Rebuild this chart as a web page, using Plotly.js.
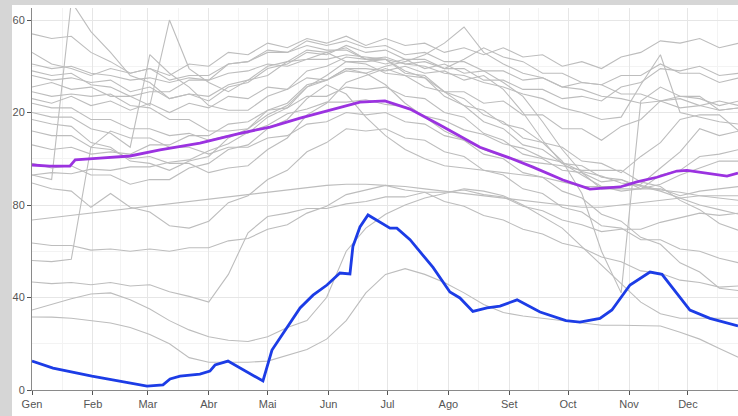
<!DOCTYPE html>
<html>
<head>
<meta charset="utf-8">
<script src="https://cdn.plot.ly/plotly-3.0.1.min.js"></script>
<style>html,body{margin:0;padding:0;background:#fff;}#chart{width:738px;height:416px;}</style>
</head>
<body>
<div id="chart"></div>
<script>
// Month ticks (day of year) and Catalan labels
const monthDays = [0,31,59,90,120,151,181,212,243,273,304,334];
const monthLabels = ['Gen','Feb','Mar','Abr','Mai','Jun','Jul','Ago','Set','Oct','Nov','Dec'];
const midMonths = [15.5,45,74.5,105,135.5,166,196.5,227.5,258,288.5,319,349];
const yTickVals = [0,40,80,120,160];
const yTickText = ['0','40','80','20','60'];
const yMinor = [20,60,100,140];

// Grey series sampled every 10 days
const greyDays = [0,10,20,30,40,50,60,70,80,90,100,110,120,130,140,150,160,170,180,190,200,210,220,230,240,250,260,270,280,290,300,310,320,330,340,350,360];
const gA = [154,152,153,146,142,137,139,136,141,140,146,145,150,148,152,150,153,149,152,149,150,146,148,145,148,144,145,140,142,139,144,146,151,150,152,148,150];
const gB = [93,91,168,155,146,136,133,126,128,125,131,133,139,141,146,145,149,146,147,143,143,139,139,134,134,130,130,126,127,125,131,133,139,138,140,136,137];
const gD = [146,141,139,136,139,137,139,134,136,136,141,142,147,146,151,149,151,148,149,145,146,142,142,138,138,134,135,131,133,132,136,136,141,137,137,133,135];
const gE = [138,136,137,132,131,127,129,129,134,134,141,142,146,146,149,147,147,143,144,141,142,139,143,148,144,142,137,137,133,132,128,128,125,126,123,125,123];
const gF = [136,134,135,133,134,129,131,126,128,127,132,134,140,142,147,146,148,143,143,137,136,129,129,124,125,119,119,113,113,108,114,117,125,127,127,121,122];
const gG = [131,133,130,131,127,127,123,160,139,133,129,134,136,142,143,146,142,141,137,136,131,129,123,121,115,113,107,105,99,98,94,101,107,117,119,119,112];
const gH = [129,127,128,127,128,123,122,117,117,112,112,113,119,123,131,134,139,139,138,140,137,138,134,136,130,120,108,98,93,88,88,89,96,103,113,110,112];
const gI = [124,122,122,117,117,113,113,110,111,108,110,111,118,122,131,136,142,142,143,138,135,127,123,116,113,106,104,98,97,92,91,87,87,84,86,87,88];
const gJ = [120,118,118,113,111,105,145,137,131,123,121,121,127,130,138,140,144,143,141,143,139,141,137,138,133,127,116,104,94,87,87,87,93,95,101,102,104];
const gK = [117,115,114,107,105,99,98,95,99,101,109,113,121,124,132,134,139,137,132,124,118,112,108,104,101,99,98,97,95,95,95,90,88,82,78,72,69];
const gL = [112,110,110,105,104,100,101,98,98,94,96,97,104,109,119,124,133,136,139,136,135,129,126,119,116,109,107,99,85,60,42,125,131,127,126,123,125];
const gM = [106,104,105,102,103,102,106,106,110,110,115,116,121,122,127,127,131,130,131,127,126,120,118,111,108,102,100,95,94,90,91,88,86,83,80,78,76];
const gN = [98,96,97,93,93,89,91,91,96,98,104,106,113,117,126,132,128,118,110,104,100,97,96,95,94,93,92,90,88,88,86,87,89,93,96,99,99];
const gP = [93,94,93.5,95.5,95,96.5,96.5,98.5,99.5,103.5,106.5,111.5,114.5,119.5,121.5,124.5,124.5,125.5,123.5,122.5,118.5,116.5,112.5,110.5,106.5,104.5,100.5,98.5,94.5,92.5,89.5,88.5,86.5,85.5,84,83,82];
const gQ = [89.5,87,86,79,85,79,77,71,70,73,81,84,91,95,103,107,113,112,113,109,108,103,101,95,93,87,85,79,77,71,70,65,65,61,60,57,55];
const gR = [73.5,74.5,75.5,76.5,77.5,78.5,79.5,80.5,81.5,82.5,83.5,84.5,85.5,86.5,87.5,88.5,89,89,88.5,88,87,86,85,84,83,82,81,80,79,79,80,81,82,83,84,84,84];
const gS = [63.6,62.5,62.5,60.5,61,60,61,60,61.5,61.5,64.5,65.5,69.5,71.5,76.5,79.5,84.5,86.5,88.5,86.5,85.5,81.5,79.5,75.5,73.5,69.5,67.5,63.5,61.5,57.5,55.5,51.5,50.5,47.5,46.5,44.5,45];
const gT = [46.7,46,46.5,45.5,46.5,45,45.5,42.5,40.5,38,50,68,75,76.5,78.5,78.5,80.5,81.5,83.5,83.5,85.5,85.5,86.5,84.5,83.5,79.5,77.5,73.5,71.5,68.5,69.5,69.5,72.5,74.5,76.5,75.5,76.5];
const gU = [56,55.5,56.5,105,112,109,109,105,105,102,105,105,109,110,115,116,120,119,120,116,115,110,108,102,100,94,92,86,83,76,73,66,63,55,51,44,43];
const gV = [126,124,127,123,125,121,124,120,124,122,127,126,131,130,135,134,138,137,140,142,145,150,157,146,141,137,135,131,130,127,126,124,125,122,123,121,122];
const gW = [141,139,140,137,136,134,135,133,135,134,137,138,141,140,143,143,145,144,143,141,140,137,136,133,131,128,126,122,120,117,118,132,145,120,118,116,115];
const gL1 = [31.6,31.5,31,30,29,27,24,20,14,12,12,12,12.5,15,17.5,22,30,42,50,52.5,50,46.5,42,37,33.5,32,31,30,29,28,28,28,27.7,25,22,18,14];
const gL2 = [34.6,37,39.5,41.5,42,39,35,30,26,23,21.5,21,23,27,30,40,60,70,76,80,83,85,87,86,84,80,75,70,62,54,46,38,33,31,31,31,31];
const greySeries = [gA,gB,gD,gE,gF,gG,gH,gI,gJ,gK,gL,gM,gN,gP,gQ,gR,gS,gT,gU,gV,gW,gL1,gL2];

// Highlighted series
const purpleDays = [0,9,19.3,22,34.6,49.9,65.2,85.5,105.9,121.2,136.5,151.7,167,179.7,192.5,207.7,228.1,243.4,255.1,270.4,284.1,299.4,308,318.2,328.4,333.5,343.7,353.9,359.5];
const purpleVals = [97.3,96.8,96.8,99.5,100.3,101.2,103.8,106.8,111,113.7,117.6,121,124.5,125,121.5,114.6,105,100.3,96.4,90.8,86.9,87.8,90,92,94.7,95,93.8,92.5,93.8];
const blueDays = [0,10.7,30.5,58.6,66.7,70.3,75.4,85.5,90.6,93.2,99.8,117.6,122.2,129.8,136.5,143.1,150.2,156.8,161.9,163.4,167,171.1,177.2,182.3,185.8,192.5,204.2,212.8,217.9,224.5,231.7,238.3,247,258.7,271.9,279,289.2,295.3,304.5,314.7,320.8,327.4,335,345.2,359.5];
const blueVals = [12.5,9.5,6,1.7,2.2,4.8,6,6.9,8.2,10.8,12.5,3.9,17.3,27,35.5,41,45.4,50.6,50.2,62,70.5,75.7,72.6,70,70,65,53,42.4,39.8,34,35.5,36.3,39,33.7,30,29.4,31,34.6,45.4,51,50,43,34.6,31,27.7];

const traces = greySeries.map(v => ({
  x: greyDays, y: v, type: 'scatter', mode: 'lines',
  line: {color: '#bdbdbd', width: 1.1}, hoverinfo: 'skip', showlegend: false
}));
traces.push({x: purpleDays, y: purpleVals, type: 'scatter', mode: 'lines',
  line: {color: '#9b32e0', width: 2.8}, showlegend: false});
traces.push({x: blueDays, y: blueVals, type: 'scatter', mode: 'lines',
  line: {color: '#1c3ce6', width: 2.8}, showlegend: false});

const layout = {
  width: 738, height: 416,
  margin: {l: 32, r: 0, t: 8, b: 26, pad: 0},
  paper_bgcolor: '#ffffff', plot_bgcolor: '#ffffff',
  showlegend: false,
  font: {family: 'Liberation Sans, Arial, sans-serif', size: 11, color: '#555555'},
  xaxis: {
    range: [0, 359.5], tickmode: 'array', tickvals: monthDays, ticktext: monthLabels,
    showgrid: true, gridcolor: '#e6e6e6', gridwidth: 1, zeroline: false,
    showline: true, linecolor: '#8a8a8a', linewidth: 1,
    ticks: 'outside', ticklen: 4, tickcolor: '#555', tickwidth: 1,
    minor: {tickvals: midMonths, showgrid: true, gridcolor: '#f3f3f3', gridwidth: 1, ticks: ''}
  },
  yaxis: {
    range: [0, 165.2], tickmode: 'array', tickvals: yTickVals, ticktext: yTickText,
    showgrid: true, gridcolor: '#e6e6e6', gridwidth: 1, zeroline: false,
    showline: true, linecolor: '#8a8a8a', linewidth: 1,
    ticks: 'outside', ticklen: 4, tickcolor: '#555', tickwidth: 1,
    minor: {tickvals: yMinor, showgrid: true, gridcolor: '#f3f3f3', gridwidth: 1, ticks: ''}
  },
  shapes: [
    {type: 'rect', xref: 'paper', yref: 'paper', x0: -0.0454, x1: -0.0283, y0: -0.07, y1: 1.03,
     fillcolor: '#d6d6d6', line: {width: 0}, layer: 'above'},
    {type: 'rect', xref: 'paper', yref: 'paper', x0: -0.05, x1: 1.01, y0: 1.0079, y1: 1.03,
     fillcolor: '#d6d6d6', line: {width: 0}, layer: 'above'}
  ]
};

Plotly.newPlot('chart', traces, layout, {staticPlot: true, displayModeBar: false});
</script>
</body>
</html>
